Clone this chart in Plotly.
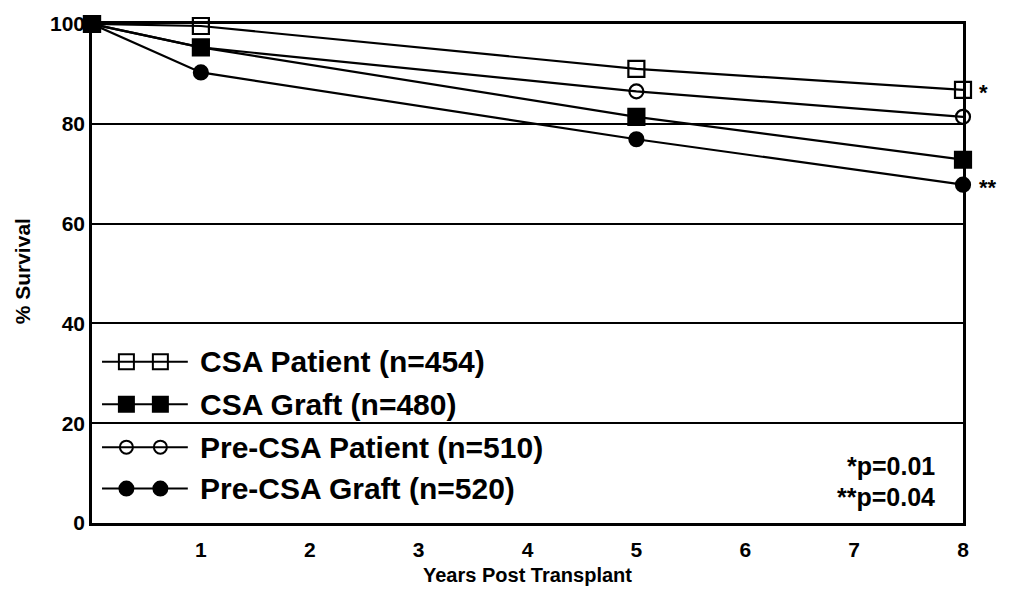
import plotly.graph_objects as go

years = [0, 1, 5, 8]
csa_patient = [100, 99.6, 91.0, 86.8]
csa_graft = [100, 95.3, 81.4, 72.8]
pre_csa_patient = [100, 95.3, 86.5, 81.4]
pre_csa_graft = [100, 90.3, 76.9, 67.8]

series_names = ["CSA Patient (n=454)", "CSA Graft (n=480)",
                "Pre-CSA Patient (n=510)", "Pre-CSA Graft (n=520)"]
x_ticks = [1, 2, 3, 4, 5, 6, 7, 8]
y_ticks = [0, 20, 40, 60, 80, 100]

FONT = "Liberation Sans"
BLACK = "black"

styles = {
    "CSA Patient (n=454)": dict(symbol="square-open", size=16, lsize=15, data=csa_patient),
    "CSA Graft (n=480)": dict(symbol="square", size=16, lsize=15, data=csa_graft),
    "Pre-CSA Patient (n=510)": dict(symbol="circle-open", size=14, lsize=13, data=pre_csa_patient),
    "Pre-CSA Graft (n=520)": dict(symbol="circle", size=14, lsize=14, data=pre_csa_graft),
}

fig = go.Figure()

draw_order = ["Pre-CSA Patient (n=510)", "Pre-CSA Graft (n=520)",
              "CSA Patient (n=454)", "CSA Graft (n=480)"]
for name in draw_order:
    s = styles[name]
    fig.add_trace(go.Scatter(
        x=years, y=s["data"], mode="lines+markers", name=name,
        line=dict(color=BLACK, width=2.2),
        marker=dict(symbol=s["symbol"], size=s["size"], color=BLACK,
                    line=dict(color=BLACK, width=2.2)),
        cliponaxis=False, showlegend=False,
    ))

# custom legend drawn on an overlay axis (0..1 in plot area)
legend_rows = [0.323, 0.238, 0.152, 0.069]
for name, yrow in zip(series_names, legend_rows):
    s = styles[name]
    fig.add_trace(go.Scatter(
        x=[0.0115, 0.110], y=[yrow, yrow], mode="lines",
        line=dict(color=BLACK, width=2), xaxis="x2", yaxis="y2",
        showlegend=False, hoverinfo="skip"))
    fig.add_trace(go.Scatter(
        x=[0.0395, 0.0785], y=[yrow, yrow], mode="markers",
        marker=dict(symbol=s["symbol"], size=s["lsize"], color=BLACK,
                    line=dict(color=BLACK, width=2)),
        xaxis="x2", yaxis="y2", showlegend=False, hoverinfo="skip"))
    fig.add_annotation(x=0.122, y=yrow, xref="paper", yref="paper", text=name,
                       showarrow=False, xanchor="left", yanchor="middle",
                       font=dict(family=FONT, size=30, color=BLACK, weight="bold"))

# significance marks
fig.add_annotation(x=8, y=csa_patient[-1], text="<b>*</b>", showarrow=False,
                   xanchor="left", yanchor="middle", xshift=14, yshift=-3,
                   font=dict(family=FONT, size=22, color=BLACK))
fig.add_annotation(x=8, y=pre_csa_graft[-1], text="<b>**</b>", showarrow=False,
                   xanchor="left", yanchor="middle", xshift=14, yshift=-3,
                   font=dict(family=FONT, size=22, color=BLACK))
fig.add_annotation(x=0.970, y=0.115, xref="paper", yref="paper", text="*p=0.01",
                   showarrow=False, xanchor="right", yanchor="middle",
                   font=dict(family=FONT, size=25, color=BLACK, weight="bold"))
fig.add_annotation(x=0.970, y=0.052, xref="paper", yref="paper", text="**p=0.04",
                   showarrow=False, xanchor="right", yanchor="middle",
                   font=dict(family=FONT, size=25, color=BLACK, weight="bold"))

# axis titles
fig.add_annotation(x=0.5, y=-0.105, xref="paper", yref="paper",
                   text="Years Post Transplant",
                   showarrow=False, xanchor="center", yanchor="middle",
                   font=dict(family=FONT, size=20, color=BLACK, weight="bold"))
fig.add_annotation(x=-0.080, y=0.505, xref="paper", yref="paper", text="% Survival",
                   showarrow=False, textangle=-90, xanchor="center", yanchor="middle",
                   font=dict(family=FONT, size=21, color=BLACK, weight="bold"))

fig.update_layout(
    width=1014, height=599,
    margin=dict(l=92, r=51, t=18, b=76),
    paper_bgcolor="white", plot_bgcolor="white",
    showlegend=False,
    xaxis=dict(range=[0, 8], tickvals=x_ticks, ticktext=[str(v) for v in x_ticks],
               showgrid=False, zeroline=False, showline=True, linecolor=BLACK,
               linewidth=2.5, mirror=True, ticks="", ticklabelstandoff=6,
               tickfont=dict(family=FONT, size=21, color=BLACK, weight="bold")),
    yaxis=dict(range=[0, 100], tickvals=y_ticks, ticktext=[str(v) for v in y_ticks],
               showgrid=True, gridcolor=BLACK, gridwidth=2, zeroline=False,
               showline=True, linecolor=BLACK, linewidth=2.5, mirror=True, ticks="",
               ticklabelstandoff=0,
               tickfont=dict(family=FONT, size=21, color=BLACK, weight="bold")),
    xaxis2=dict(range=[0, 1], overlaying="x", visible=False, domain=[0, 1]),
    yaxis2=dict(range=[0, 1], overlaying="y", visible=False),
)

fig.write_html("out.html")
